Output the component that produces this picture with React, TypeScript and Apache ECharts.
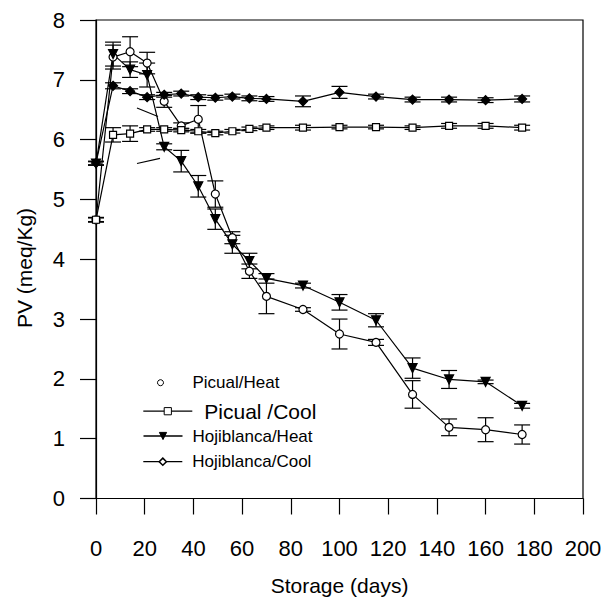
import React, { useEffect, useRef } from "react";
import * as echarts from "echarts";

const days = [0, 7, 14, 21, 28, 35, 42, 49, 56, 63, 70, 85, 100, 115, 130, 145, 160, 175];

const picualHeat = [4.66, 7.38, 7.47, 7.28, 6.64, 6.23, 6.34, 5.09, 4.36, 3.8, 3.38, 3.16, 2.75, 2.61, 1.74, 1.19, 1.15, 1.07];
const picualHeatErr = [0.03, 0.2, 0.25, 0.18, 0.1, 0.05, 0.23, 0.22, 0.1, 0.12, 0.29, 0.03, 0.25, 0.05, 0.23, 0.14, 0.2, 0.16];

const picualCool = [4.66, 6.08, 6.1, 6.17, 6.17, 6.16, 6.14, 6.11, 6.14, 6.18, 6.2, 6.2, 6.21, 6.21, 6.2, 6.23, 6.23, 6.2];
const picualCoolErr = [0.04, 0.12, 0.13, 0.03, 0.03, 0.03, 0.03, 0.03, 0.03, 0.03, 0.03, 0.04, 0.03, 0.03, 0.03, 0.04, 0.04, 0.04];

const hojHeat = [5.6, 7.43, 7.17, 7.08, 5.88, 5.64, 5.22, 4.67, 4.25, 3.97, 3.68, 3.56, 3.28, 2.98, 2.18, 1.99, 1.95, 1.55];
const hojHeatErr = [0.03, 0.2, 0.13, 0.2, 0.05, 0.18, 0.18, 0.17, 0.15, 0.13, 0.08, 0.04, 0.13, 0.11, 0.17, 0.15, 0.03, 0.04];

const hojCool = [5.61, 6.9, 6.81, 6.71, 6.75, 6.77, 6.71, 6.7, 6.72, 6.69, 6.68, 6.64, 6.79, 6.72, 6.67, 6.67, 6.66, 6.68];
const hojCoolErr = [0.03, 0.05, 0.04, 0.04, 0.04, 0.04, 0.04, 0.04, 0.04, 0.04, 0.04, 0.09, 0.1, 0.04, 0.04, 0.04, 0.04, 0.05];

const FONT = "'Liberation Sans', Arial, sans-serif";

function pairs(vals: number[]) {
  return days.map((d, i) => [d, vals[i]]);
}
function errData(vals: number[], errs: number[]) {
  return days.map((d, i) => [d, vals[i] - errs[i], vals[i] + errs[i]]);
}

function errSeries(name: string, vals: number[], errs: number[]) {
  return {
    type: "custom",
    name,
    data: errData(vals, errs),
    encode: { x: 0, y: [1, 2] },
    z: 1,
    silent: true,
    renderItem: (params: any, api: any) => {
      const x = api.value(0);
      const lo = api.coord([x, api.value(1)]);
      const hi = api.coord([x, api.value(2)]);
      const w = 8;
      const st = { stroke: "#000", lineWidth: 1.2 };
      return {
        type: "group",
        children: [
          { type: "line", shape: { x1: lo[0], y1: lo[1], x2: hi[0], y2: hi[1] }, style: st },
          { type: "line", shape: { x1: lo[0] - w, y1: lo[1], x2: lo[0] + w, y2: lo[1] }, style: st },
          { type: "line", shape: { x1: hi[0] - w, y1: hi[1], x2: hi[0] + w, y2: hi[1] }, style: st },
        ],
      };
    },
  };
}

function lineSeries(name: string, vals: number[], symbol: string, size: number, fill: string, rotate = 0) {
  return {
    type: "line",
    name,
    data: pairs(vals),
    symbol,
    symbolSize: size,
    symbolRotate: rotate,
    showSymbol: true,
    z: 3,
    lineStyle: { color: "#000", width: 1.2 },
    itemStyle: { color: fill, borderColor: "#000", borderWidth: 1.2 },
  };
}

function legendBox(name: string, left: number, top: number, itemWidth: number, itemHeight: number, fontSize: number, padLeft: number, extra: any) {
  return {
    data: [name],
    left,
    top,
    padding: 0,
    itemWidth,
    itemHeight,
    selectedMode: false,
    textStyle: { fontSize, fontFamily: FONT, color: "#000", lineHeight: fontSize + 3, padding: [0, 0, 0, padLeft] },
    ...extra,
  };
}

export default function App() {
  const ref = useRef<HTMLDivElement>(null);
  useEffect(() => {
    const chart = echarts.init(ref.current!, null, { renderer: "svg" });
    const option: any = {
      animation: false,
      backgroundColor: "#fff",
      grid: { left: 96, right: 22, top: 20, bottom: 97, show: true, borderColor: "#000", borderWidth: 1.2, backgroundColor: "transparent" },
      xAxis: {
        type: "value",
        min: 0,
        max: 200,
        interval: 20,
        name: "Storage (days)",
        nameLocation: "middle",
        nameGap: 87,
        nameTextStyle: { fontSize: 21, fontFamily: FONT, color: "#000", verticalAlign: "middle" },
        axisLine: { show: true, lineStyle: { color: "#000", width: 1.2 } },
        axisTick: { show: true, length: 16, lineStyle: { color: "#000", width: 1.2 } },
        axisLabel: { fontSize: 22, fontFamily: FONT, color: "#000", margin: 39, showMinLabel: true, showMaxLabel: true },
        splitLine: { show: false },
      },
      yAxis: {
        type: "value",
        min: 0,
        max: 8,
        interval: 1,
        axisLine: { show: true, lineStyle: { color: "#000", width: 1.2 } },
        axisTick: { show: true, length: 16, lineStyle: { color: "#000", width: 1.2 } },
        axisLabel: { fontSize: 22, fontFamily: FONT, color: "#000", margin: 31 },
        splitLine: { show: false },
      },
      legend: [
        legendBox("Picual/Heat", 157, 372.7, 6, 6, 17, 24, {
          data: [{ name: "Picual/Heat", icon: "circle", itemStyle: { color: "#fff", borderColor: "#000", borderWidth: 1 } }],
        }),
        legendBox("Picual /Cool", 142.7, 399.2, 49, 9, 21, 7, {
          itemStyle: { color: "#fff", borderColor: "#000", borderWidth: 1 },
          lineStyle: { color: "#000", width: 1.2 },
        }),
        legendBox("Hojiblanca/Heat", 142.7, 426, 39, 9, 17, 5, {
          itemStyle: { color: "#000", borderColor: "#000", borderWidth: 1 },
          lineStyle: { color: "#000", width: 1.6 },
        }),
        legendBox("Hojiblanca/Cool", 142.7, 451.7, 39, 9, 17, 5, {
          itemStyle: { color: "#fff", borderColor: "#000", borderWidth: 1.5 },
          lineStyle: { color: "#000", width: 1.2 },
        }),
      ],
      graphic: [
        {
          type: "text",
          x: 24,
          y: 268,
          rotation: Math.PI / 2,
          style: { text: "PV (meq/Kg)", fontSize: 21, fontFamily: FONT, fill: "#000", align: "center", verticalAlign: "middle" },
        },
        { type: "line", shape: { x1: 137, y1: 108, x2: 158, y2: 116.5 }, style: { stroke: "#000", lineWidth: 1.2 } },
        { type: "line", shape: { x1: 137, y1: 163.5, x2: 160, y2: 158.3 }, style: { stroke: "#000", lineWidth: 1.2 } },
      ],
      series: [
        errSeries("e1", picualHeat, picualHeatErr),
        errSeries("e2", picualCool, picualCoolErr),
        errSeries("e3", hojHeat, hojHeatErr),
        errSeries("e4", hojCool, hojCoolErr),
        lineSeries("Picual/Heat", picualHeat, "circle", 8, "#fff"),
        lineSeries("Picual /Cool", picualCool, "rect", 7, "#fff"),
        lineSeries("Hojiblanca/Heat", hojHeat, "triangle", 9, "#000", 180),
        lineSeries("Hojiblanca/Cool", hojCool, "diamond", 9, "#000"),
      ],
    };
    chart.setOption(option);
    return () => chart.dispose();
  }, []);
  return <div ref={ref} style={{ position: "absolute", left: 0, top: 0, width: 605, height: 601 }} />;
}
